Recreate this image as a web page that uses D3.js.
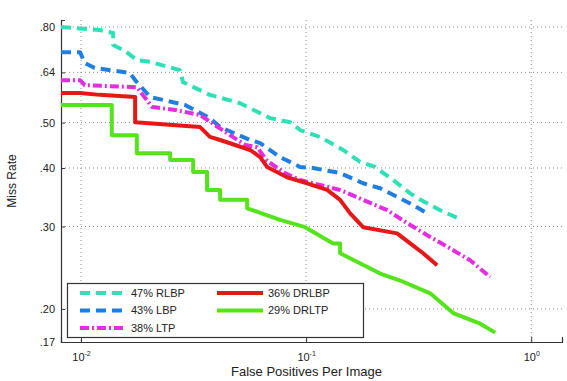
<!DOCTYPE html>
<html>
<head>
<meta charset="utf-8">
<script src="https://cdn.jsdelivr.net/npm/d3@7"></script>
<style>
  body { margin: 0; background: #fff; }
  svg { font-family: "Liberation Sans", Arial, sans-serif; }
</style>
</head>
<body>
<div class="chart"></div>
<script>
// tick values / labels
var yTicks = [0.17, 0.20, 0.30, 0.40, 0.50, 0.64, 0.80];
var yTickLabels = ['.17', '.20', '.30', '.40', '.50', '.64', '.80'];
var xTicks = [0.01, 0.1, 1];
var xTickExp = ['-2', '-1', '0'];

// series names (legend order)
var names = ['47% RLBP', '43% LBP', '38% LTP', '36% DRLBP', '29% DRLTP'];

// [fppi, miss rate]
var rlbp = [
  [0.00815, 0.800], [0.0121, 0.788], [0.0139, 0.777], [0.0139, 0.732], [0.0157, 0.711],
  [0.0177, 0.680], [0.0203, 0.674], [0.0275, 0.647], [0.0284, 0.610], [0.0321, 0.593],
  [0.0374, 0.573], [0.0509, 0.550], [0.0692, 0.511], [0.0849, 0.501], [0.0940, 0.482],
  [0.1154, 0.466], [0.1460, 0.437], [0.1738, 0.412], [0.2026, 0.402], [0.2436, 0.377],
  [0.2899, 0.353], [0.3113, 0.345], [0.3941, 0.325], [0.4690, 0.313], [0.4835, 0.310]
];
var lbp = [
  [0.00815, 0.707], [0.0099, 0.707], [0.0104, 0.670], [0.0115, 0.654], [0.0165, 0.638],
  [0.0174, 0.616], [0.0203, 0.567], [0.0290, 0.545], [0.0374, 0.511], [0.0415, 0.489],
  [0.0564, 0.459], [0.0625, 0.452], [0.0766, 0.422], [0.0940, 0.402], [0.1074, 0.400],
  [0.1416, 0.390], [0.1792, 0.371], [0.2133, 0.362], [0.2899, 0.336], [0.3380, 0.322]
];
var ltp = [
  [0.00815, 0.616], [0.0099, 0.616], [0.0104, 0.601], [0.0177, 0.595], [0.0207, 0.540],
  [0.0262, 0.532], [0.0338, 0.519], [0.0394, 0.494], [0.0459, 0.470], [0.0536, 0.448],
  [0.0606, 0.443], [0.0671, 0.414], [0.0807, 0.390], [0.0940, 0.377], [0.1416, 0.359],
  [0.1792, 0.342], [0.2291, 0.325], [0.2811, 0.305], [0.3557, 0.285], [0.4502, 0.267],
  [0.5356, 0.254], [0.6574, 0.234]
];
var drlbp = [
  [0.00815, 0.578], [0.0099, 0.578], [0.0121, 0.573], [0.0174, 0.567], [0.0174, 0.501],
  [0.0338, 0.489], [0.0374, 0.466], [0.0415, 0.459], [0.0564, 0.437], [0.0625, 0.422],
  [0.0671, 0.402], [0.0823, 0.382], [0.1010, 0.371], [0.1240, 0.359], [0.1416, 0.342],
  [0.1569, 0.320], [0.1792, 0.299], [0.2537, 0.290], [0.2899, 0.276], [0.3311, 0.263],
  [0.3821, 0.248]
];
var drltp = [
  [0.00815, 0.545], [0.0137, 0.545], [0.0137, 0.470], [0.0177, 0.470], [0.0177, 0.430],
  [0.0249, 0.430], [0.0249, 0.416], [0.0315, 0.416], [0.0315, 0.392], [0.0363, 0.392],
  [0.0363, 0.359], [0.0415, 0.359], [0.0415, 0.342], [0.0547, 0.342], [0.0547, 0.328],
  [0.0766, 0.310], [0.0990, 0.299], [0.1318, 0.276], [0.1416, 0.276], [0.1416, 0.263],
  [0.2133, 0.238], [0.2617, 0.230], [0.3557, 0.216], [0.4502, 0.196], [0.5934, 0.186],
  [0.6918, 0.178]
];

var series = [rlbp, lbp, ltp, drlbp, drltp];
var colors = ['#2ee0b4', '#1f7fe0', '#e22ee0', '#e41818', '#55e41c'];
var dashes = ['10,6', '10,6', '9,3,2,3', null, null];

var W = 567, H = 381;
var margin = { top: 20, right: 562, bottom: 342, left: 61 };

var svg = d3.select('.chart')
  .append('svg')
    .attr('width', W)
    .attr('height', H);

var x = d3.scaleLog()
  .domain([0.00815, 1.37])
  .range([margin.left, margin.right]);
var y = d3.scaleLog()
  .domain([0.17, 0.828])
  .range([margin.bottom, margin.top]);

// dotted grid
svg.append('g')
  .selectAll('line')
  .data(yTicks.slice(1))
  .enter().append('line')
    .attr('x1', margin.left).attr('x2', margin.right)
    .attr('y1', d => y(d)).attr('y2', d => y(d))
    .attr('stroke', '#8a8a8a')
    .attr('stroke-width', 1)
    .attr('stroke-dasharray', '1,3');
svg.append('g')
  .selectAll('line')
  .data(xTicks)
  .enter().append('line')
    .attr('x1', d => x(d)).attr('x2', d => x(d))
    .attr('y1', margin.top).attr('y2', margin.bottom)
    .attr('stroke', '#8a8a8a')
    .attr('stroke-width', 1)
    .attr('stroke-dasharray', '1,3');

// axes
var yAxis = svg.append('g')
  .attr('transform', `translate(${margin.left}, 0)`)
  .call(d3.axisLeft(y)
    .tickValues(yTicks)
    .tickFormat((d, i) => yTickLabels[i])
    .tickSize(-4)
    .tickPadding(6));
var xAxis = svg.append('g')
  .attr('transform', `translate(0, ${margin.bottom})`)
  .call(d3.axisBottom(x)
    .tickValues(xTicks)
    .tickFormat('')
    .tickSize(-5));

[yAxis, xAxis].forEach(function (g) {
  g.select('.domain').attr('stroke', '#333').attr('stroke-width', 1.2);
  g.selectAll('.tick line').attr('stroke', '#333');
  g.selectAll('.tick text').attr('fill', '#222').style('font-size', '11px');
});

// x tick labels: 10 with superscript exponent
var xl = xAxis.selectAll('.tick')
  .append('text')
    .attr('fill', '#222')
    .attr('y', 19)
    .attr('text-anchor', 'middle')
    .style('font-size', '11px');
xl.append('tspan').text('10');
xl.append('tspan')
  .attr('dy', -5)
  .style('font-size', '7px')
  .text((d, i) => xTickExp[i]);

// axis titles
svg.append('text')
  .attr('x', (margin.left + margin.right) / 2 - 5)
  .attr('y', 376)
  .attr('text-anchor', 'middle')
  .attr('fill', '#222')
  .style('font-size', '13px')
  .text('False Positives Per Image');
svg.append('text')
  .attr('transform', 'translate(16, 181) rotate(-90)')
  .attr('text-anchor', 'middle')
  .attr('fill', '#222')
  .style('font-size', '12px')
  .text('Miss Rate');

// curves
var line = d3.line()
  .x(d => x(d[0]))
  .y(d => y(d[1]));

svg.append('g')
  .selectAll('path')
  .data(series)
  .enter().append('path')
    .attr('d', line)
    .attr('fill', 'none')
    .attr('stroke', (d, i) => colors[i])
    .attr('stroke-width', 4)
    .attr('stroke-linejoin', 'round')
    .attr('stroke-dasharray', (d, i) => dashes[i]);

// legend
var legend = svg.append('g');
legend.append('rect')
  .attr('x', 67.5).attr('y', 283.5)
  .attr('width', 296).attr('height', 54)
  .attr('fill', '#fff')
  .attr('stroke', '#333')
  .attr('stroke-width', 1.2);

var item = legend.selectAll('.item')
  .data(names)
  .enter().append('g')
    .attr('class', 'item')
    .attr('transform', function (d, i) {
      var col = i < 3 ? 0 : 1;
      var row = i < 3 ? i : i - 3;
      return `translate(${col ? 217 : 80}, ${293 + row * 17.5})`;
    });
item.append('line')
  .attr('x1', 0).attr('x2', 46)
  .attr('stroke', (d, i) => colors[i])
  .attr('stroke-width', 4)
  .attr('stroke-dasharray', (d, i) => dashes[i]);
item.append('text')
  .attr('x', 51)
  .attr('dy', '0.35em')
  .attr('fill', '#222')
  .style('font-size', '11px')
  .text(d => d);
</script>
</body>
</html>
